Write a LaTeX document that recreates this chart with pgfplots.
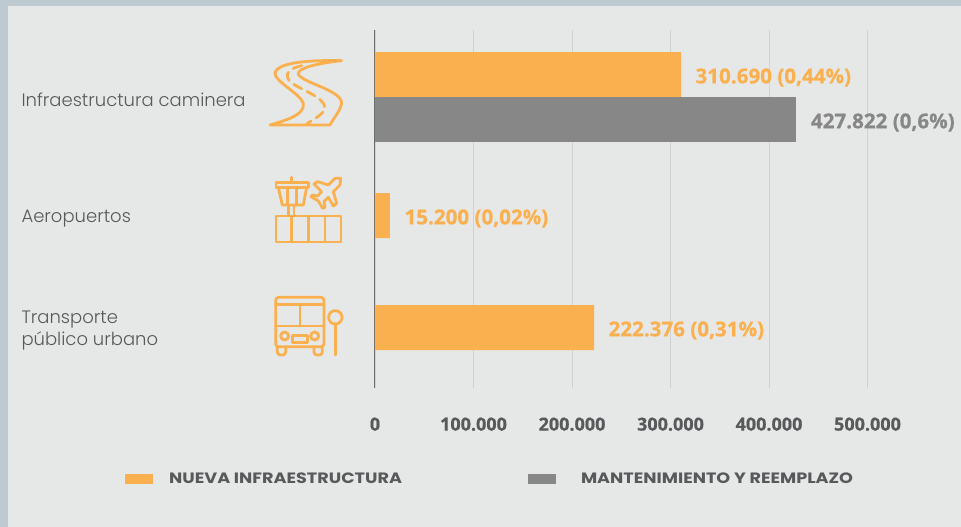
\documentclass[border=0pt]{standalone}
\usepackage{pgfplots}
\pgfplotsset{compat=1.18}
\usepackage{fontspec}
\setmainfont{Open Sans}
\newfontfamily\valfont{Open Sans Bold}[FakeBold=0.5]
\newfontfamily\catfont{Poppins Light}
\newfontfamily\legfont{Poppins Bold}[FakeStretch=1.175]
\definecolor{panel}{HTML}{E6E8E7}
\definecolor{outer}{HTML}{BDCBD1}
\definecolor{orbar}{HTML}{FBB04F}
\definecolor{grbar}{HTML}{878787}
\definecolor{txtg}{HTML}{58595B}
\definecolor{gridc}{HTML}{D0D2D1}
\definecolor{axisc}{HTML}{6D6E71}
\begin{document}
\begin{tikzpicture}[x=1pt,y=-1pt]
\fill[outer] (0,0) rectangle (961,527);
\fill[panel] (8,6) rectangle (961,527);
\begin{axis}[
  at={(375pt,-388pt)}, anchor=south west,
  scale only axis, width=492.5pt, height=358pt,
  xmin=0, xmax=500000, ymin=0, ymax=358,
  axis x line=bottom, axis y line=left,
  x axis line style={draw=none},
  y axis line style={-,draw=axisc,line width=1pt},
  xtick={0,100000,200000,300000,400000,500000},
  xticklabels={0,100.000,200.000,300.000,400.000,500.000},
  scaled x ticks=false,
  xticklabel style={font=\valfont\fontsize{18}{20}\selectfont, text=txtg, yshift=-26pt},
  xmajorgrids, grid style={gridc,line width=0.8pt},
  major tick length=0pt,
  ytick={60.5,172.5,291},
  yticklabels={{Transporte\\público urbano},Aeropuertos,Infraestructura caminera},
  yticklabel style={anchor=west,align=left,xshift=-357pt,yshift=-3pt,text=txtg,
     font=\catfont\fontsize{18}{22}\selectfont},
  clip=false,
  legend columns=2,
  legend style={at={(axis description cs:-0.5076,-0.2542)},anchor=west,draw=none,fill=none,
     inner sep=0pt,font=\legfont\fontsize{15}{17}\selectfont,text=txtg,
     /tikz/every even column/.append style={column sep=124pt}},
  legend cell align=left,
  legend image code/.code={\fill[#1] (0pt,-5pt) rectangle (28pt,5pt);},
]
\addplot[xbar,bar width=45pt,bar shift=0pt,draw=none,fill=orbar,
  nodes near coords,point meta=explicit symbolic,
  every node near coord/.append style={text=orbar,font=\valfont\fontsize{20.6}{22}\selectfont,anchor=west,xshift=11pt,yshift=-3pt}]
 coordinates {(310690,313.5)[310.690 (0,44\%)] (15200,172.5)[15.200 (0,02\%)] (222376,60.5)[222.376 (0,31\%)]};
\addlegendentry{\hspace*{14pt}NUEVA INFRAESTRUCTURA}
\addplot[xbar,bar width=45pt,bar shift=0pt,draw=none,fill=grbar,
  nodes near coords,point meta=explicit symbolic,
  every node near coord/.append style={text=grbar,font=\valfont\fontsize{20.6}{22}\selectfont,anchor=west,xshift=11pt,yshift=-3pt}]
 coordinates {(427822,268.5)[427.822 (0,6\%)]};
\addlegendentry{\hspace*{23pt}MANTENIMIENTO Y REEMPLAZO}
\end{axis}
% road icon
\begin{scope}[shift={(250,40)},x=0.3333pt,y=-0.3333pt,draw=orbar,line width=2.8pt,line cap=round,line join=round]
\draw (60,255) .. controls (110,240) and (165,225) .. (160,190) .. controls (150,160) and (75,125) .. (75,100)
  .. controls (80,65) and (190,60) .. (275,62) .. controls (200,70) and (140,85) .. (145,103)
  .. controls (160,130) and (275,150) .. (275,190) .. controls (270,215) and (250,235) .. (240,255) -- cycle;
\draw[dash pattern=on 9pt off 6pt] (155,77) .. controls (120,85) and (100,100) .. (120,125)
  .. controls (150,150) and (225,170) .. (225,205) .. controls (220,225) and (185,240) .. (170,252);
\end{scope}
% airport icon
\begin{scope}[shift={(250,170)},x=0.3333pt,y=-0.3333pt,draw=orbar,line width=2.8pt,line cap=round,line join=round]
\draw (78,138) rectangle (273,216);
\draw (125,138)--(125,216) (175,138)--(175,216) (225,138)--(225,216);
\draw (115,108)--(115,138) (132,108)--(132,138);
\draw (78,38) rectangle (175,52);
\draw (85,52)--(97,105)--(160,105)--(170,52);
\draw (113,52)--(113,105) (140,52)--(140,105);
\draw (125,22)--(125,38);
\draw (272,25)--(255,25)--(235,45)--(203,35)--(192,42)--(215,65)--(203,78)--(187,75)--(183,80)--(205,93)--(218,115)--(225,112)--(222,95)--(235,82)--(250,108)--(260,100)--(250,65)--(270,45)--cycle;
\end{scope}
% bus icon
\begin{scope}[shift={(250,285)},x=0.3333pt,y=-0.3333pt,draw=orbar,line width=2.8pt,line cap=round,line join=round]
\draw[rounded corners=3pt] (77,37) rectangle (222,185);
\draw (77,58)--(222,58) (77,123)--(222,123) (150,58)--(150,123);
\draw (104,153) circle[radius=4pt] (194,153) circle[radius=4pt];
\draw (127,152) rectangle (172,172);
\draw[rounded corners=3pt] (82,185)--(82,210)--(107,210)--(107,185);
\draw[rounded corners=3pt] (192,185)--(192,210)--(217,210)--(217,185);
\draw (256,97) circle[radius=6.7pt];
\draw (256,117)--(256,210);
\end{scope}
\end{tikzpicture}
\end{document}
